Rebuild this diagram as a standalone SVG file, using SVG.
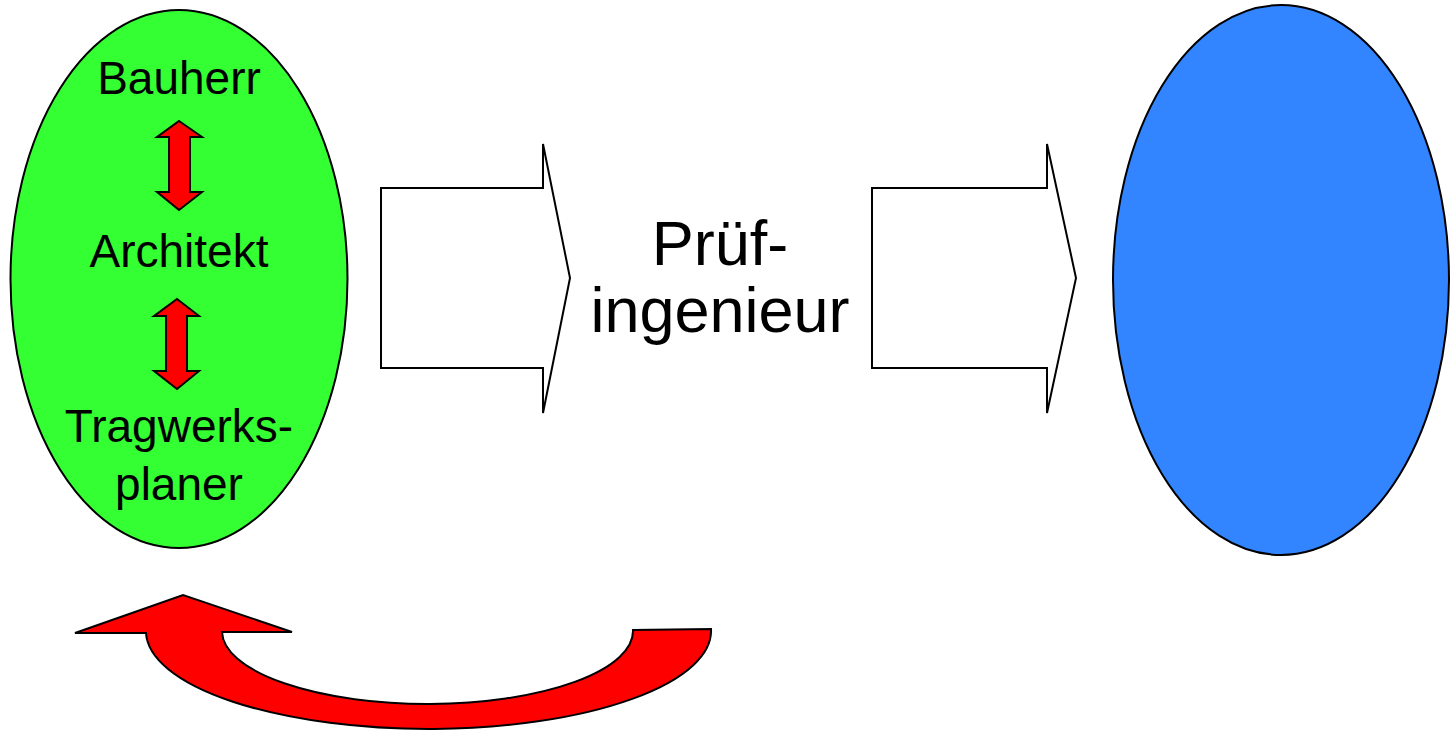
<svg xmlns="http://www.w3.org/2000/svg" width="1452" height="731" viewBox="0 0 1452 731">
<style>
.lbl{font-family:"Liberation Sans",Arial,sans-serif;fill:#000;text-anchor:middle}
.ell{stroke:#000;stroke-width:2}
.red{fill:#ff0000;stroke:#000;stroke-width:2;stroke-linejoin:miter}
.blk{fill:#fff;stroke:#000;stroke-width:2;stroke-linejoin:miter}
</style>
<rect width="1452" height="731" fill="#fff"/>
<g id="partner-group">
<ellipse class="ell" cx="179" cy="279" rx="168.5" ry="269" fill="#33ff33"/>
<text class="lbl" x="179" y="94" font-size="46">Bauherr</text>
<text class="lbl" x="179" y="267" font-size="46">Architekt</text>
<text class="lbl" x="179" y="442" font-size="46">Tragwerks-</text>
<text class="lbl" x="179" y="500" font-size="46">planer</text>
<path class="red" d="M179,121 L202,137 L190,137 L190,192 L202,192 L179,210 L157,192 L169,192 L169,137 L157,137 Z"/>
<path class="red" d="M177,299 L199,316 L187,316 L187,371 L199,371 L177,389 L154,371 L166,371 L166,316 L154,316 Z"/>
</g>
<g id="pruefingenieur">
<text class="lbl" x="720" y="265" font-size="63">Prüf-</text>
<text class="lbl" x="720" y="332" font-size="63">ingenieur</text>
</g>
<g id="result">
<ellipse class="ell" cx="1281" cy="280" rx="168" ry="275" fill="#3385ff"/>
</g>
<g id="connectors">
<path class="blk" d="M381,188 L543,188 L543,144 L570,278 L543,413 L543,368 L381,368 Z"/>
<path class="blk" d="M872,188 L1047,188 L1047,144 L1076,278 L1047,413 L1047,368 L872,368 Z"/>
<path class="red" d="M75,633 L183,595 L292,632 L222,632 A205.5,73 0 0 0 633,630 L711,629 A282.5,98 0 0 1 146,633 Z"/>
</g>
</svg>
